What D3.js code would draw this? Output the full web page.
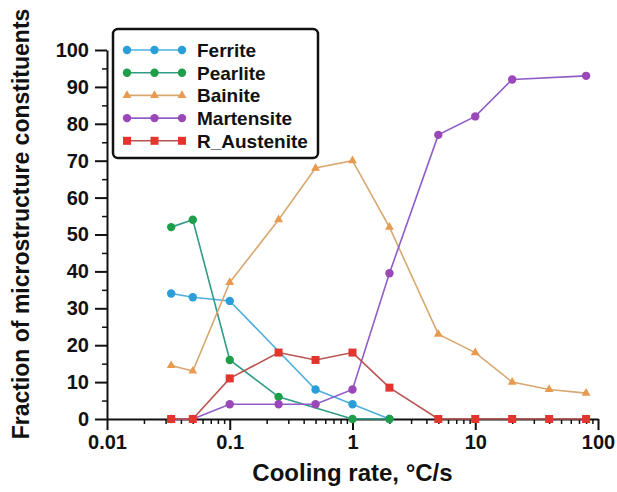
<!DOCTYPE html>
<html>
<head>
<meta charset="utf-8">
<script src="https://cdn.jsdelivr.net/npm/d3@7"></script>
<style>
  body { margin: 0; background: #fff; }
  text { font-family: Arial, "Liberation Sans", sans-serif; font-weight: bold; fill: #111; }
</style>
</head>
<body>
<svg id="chart"></svg>
<script>
// cooling rates (°C/s) and phase fractions (%)
const coolingRates = [1 / 30, 0.05, 0.1, 0.25, 0.5, 1, 2, 5, 10, 20, 40, 80];
const ferrite     = [34, 33, 32, null, 8, 4, 0, null, null, null, null, null];
const pearlite    = [52, 54, 16, 6, null, 0, 0, null, null, null, null, null];
const bainite     = [14.5, 13, 37, 54, 68, 70, 52, 23, 18, 10, 8, 7];
const martensite  = [0, 0, 4, 4, 4, 8, 39.5, 77, 82, 92, null, 93];
const rAustenite  = [0, 0, 11, 18, 16, 18, 8.5, 0, 0, 0, 0, 0];

const seriesNames = ["Ferrite", "Pearlite", "Bainite", "Martensite", "R_Austenite"];
const xTicks = [0.01, 0.1, 1, 10, 100];
const xTickLabels = ["0.01", "0.1", "1", "10", "100"];
const yTicks = [0, 10, 20, 30, 40, 50, 60, 70, 80, 90, 100];

const series = [
  { name: seriesNames[0], values: ferrite,    marker: "circle",   fill: "#2a9ed8", line: "#4fb0dc" },
  { name: seriesNames[1], values: pearlite,   marker: "circle",   fill: "#1f9e4a", line: "#2e9c86" },
  { name: seriesNames[2], values: bainite,    marker: "triangle", fill: "#e89a4e", line: "#d8a872" },
  { name: seriesNames[3], values: martensite, marker: "circle",   fill: "#9a48b8", line: "#8f5cc8" },
  { name: seriesNames[4], values: rAustenite, marker: "square",   fill: "#e3342e", line: "#b85450" }
];

const width = 617, height = 492;
const margin = { top: 50, right: 19, bottom: 73, left: 107 };
const innerW = width - margin.left - margin.right;
const innerH = height - margin.top - margin.bottom;

const svg = d3.select("#chart")
  .attr("width", width)
  .attr("height", height);

const chart = svg.append("g")
  .attr("transform", `translate(${margin.left},${margin.top})`);

const xScale = d3.scaleLog().domain([0.01, 100]).range([0, innerW]);
const yScale = d3.scaleLinear().domain([0, 100]).range([innerH, 0]);

// minor ticks first (2..9 per decade, and 5s on y)
const xMinor = [];
for (let d = 0.01; d < 100; d *= 10) {
  for (let k = 2; k <= 9; k++) xMinor.push(d * k);
}
const yMinor = d3.range(5, 100, 10);

chart.append("g")
  .attr("transform", `translate(0,${innerH})`)
  .call(d3.axisBottom(xScale).tickValues(xMinor).tickSize(5).tickFormat(""))
  .call(g => g.select(".domain").remove())
  .selectAll("line").attr("stroke", "#111").attr("stroke-width", 1.5);

chart.append("g")
  .call(d3.axisLeft(yScale).tickValues(yMinor).tickSize(5).tickFormat(""))
  .call(g => g.select(".domain").remove())
  .selectAll("line").attr("stroke", "#111").attr("stroke-width", 1.5);

const xAxisG = chart.append("g")
  .attr("transform", `translate(0,${innerH})`)
  .call(d3.axisBottom(xScale).tickValues(xTicks).tickSize(11).tickSizeOuter(0)
    .tickFormat((d, i) => xTickLabels[i]));

const yAxisG = chart.append("g")
  .call(d3.axisLeft(yScale).tickValues(yTicks).tickSize(12).tickSizeOuter(0));

[xAxisG, yAxisG].forEach(g => {
  g.select(".domain").attr("stroke", "#111").attr("stroke-width", 2);
  g.selectAll(".tick line").attr("stroke", "#111").attr("stroke-width", 2);
  g.selectAll("text")
    .attr("fill", "#111")
    .style("font-size", "20px")
    .style("font-family", "Arial, 'Liberation Sans', sans-serif")
    .style("font-weight", "bold");
});
xAxisG.selectAll("text").attr("dy", "0.8em");
yAxisG.selectAll("text").attr("x", -18);

// series: lines run through every point that has a value
const line = d3.line()
  .x(d => xScale(d.x))
  .y(d => yScale(d.v));

function drawMarker(g, type, color) {
  if (type === "circle") {
    g.append("circle").attr("r", 4.2).attr("fill", color);
  } else if (type === "square") {
    g.append("rect").attr("x", -4).attr("y", -4).attr("width", 8).attr("height", 8).attr("fill", color);
  } else {
    g.append("path").attr("d", d3.symbol(d3.symbolTriangle, 34)()).attr("fill", color);
  }
}

series.forEach(s => {
  const pts = coolingRates.map((x, i) => ({ x: x, v: s.values[i] }))
    .filter(p => p.v != null);
  chart.append("path")
    .datum(pts)
    .attr("fill", "none")
    .attr("stroke", s.line)
    .attr("stroke-width", 1.6)
    .attr("d", line);
  pts.forEach(p => {
    const m = chart.append("g")
      .attr("transform", `translate(${xScale(p.x)},${yScale(p.v)})`);
    drawMarker(m, s.marker, s.fill);
  });
});

// legend
const legend = svg.append("g").attr("transform", "translate(113,29)");
legend.append("rect")
  .attr("width", 205).attr("height", 129)
  .attr("rx", 5)
  .attr("fill", "#fff")
  .attr("stroke", "#111")
  .attr("stroke-width", 2.5);

series.forEach((s, i) => {
  const row = legend.append("g").attr("transform", `translate(0,${21 + i * 22.7})`);
  row.append("line")
    .attr("x1", 14).attr("x2", 69)
    .attr("stroke", s.line).attr("stroke-width", 1.6);
  [14, 41.5, 69].forEach(mx => {
    const m = row.append("g").attr("transform", `translate(${mx},0)`);
    drawMarker(m, s.marker, s.fill);
  });
  row.append("text")
    .attr("x", 84)
    .attr("dy", "0.36em")
    .style("font-size", "19px")
    .text(s.name);
});

// axis titles
svg.append("text")
  .attr("x", margin.left + xScale(1))
  .attr("y", 481)
  .attr("text-anchor", "middle")
  .style("font-size", "24px")
  .text("Cooling rate, °C/s");

svg.append("text")
  .attr("transform", "translate(29,224) rotate(-90)")
  .attr("text-anchor", "middle")
  .style("font-size", "23px")
  .text("Fraction of microstructure constituents");
</script>
</body>
</html>
